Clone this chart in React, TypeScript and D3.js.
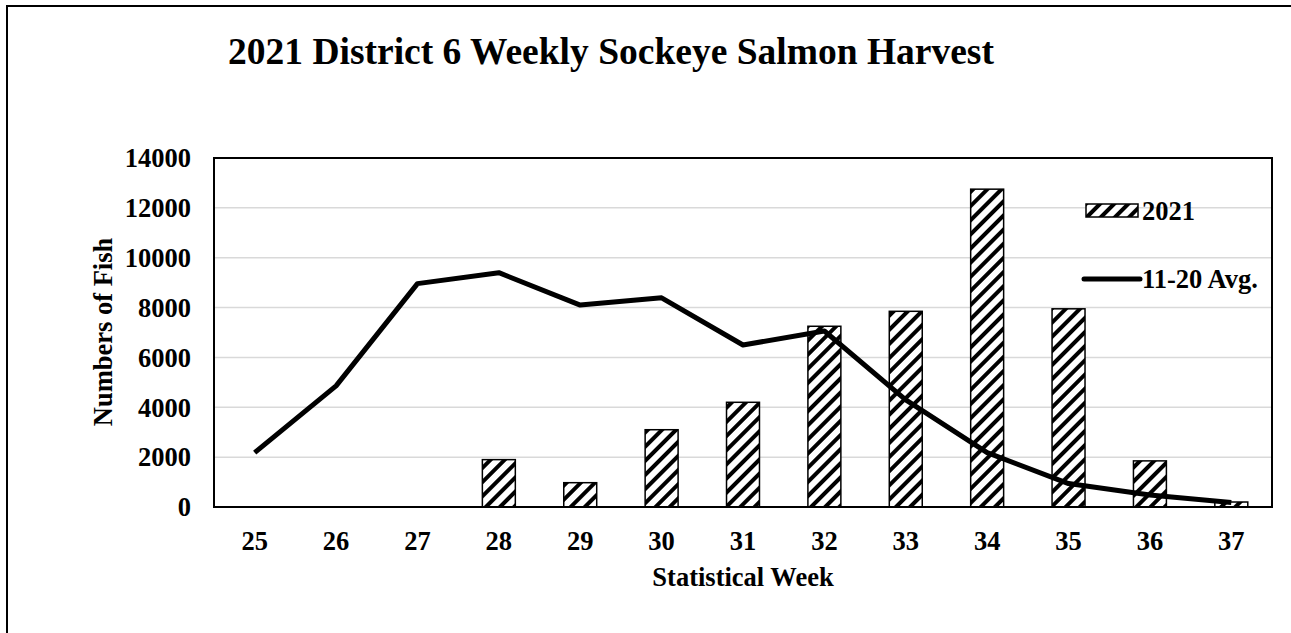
import React from "react";
import * as d3 from "d3";

const weeks = ["25", "26", "27", "28", "29", "30", "31", "32", "33", "34", "35", "36", "37"];
const harvest2021 = [0, 0, 0, 1900, 975, 3100, 4200, 7250, 7850, 12750, 7950, 1850, 200];
const avg1120 = [2180, 4860, 8960, 9400, 8100, 8390, 6500, 7060, 4300, 2180, 940, 480, 180];
const yTicks = [0, 2000, 4000, 6000, 8000, 10000, 12000, 14000];

const W = 1291;
const H = 633;
const plot = { left: 214, top: 158, right: 1272, bottom: 507 };
const font = "'Liberation Serif', 'Times New Roman', serif";
const fs = 26.5;

export default function App() {
  const x = d3.scaleBand<string>().domain(weeks).range([plot.left, plot.right]).padding(0);
  const y = d3.scaleLinear().domain([0, 14000]).range([plot.bottom, plot.top]);
  const barW = x.bandwidth() * 0.405;
  const line = d3
    .line<number>()
    .x((_, i) => (x(weeks[i]) as number) + x.bandwidth() / 2)
    .y((d) => y(d));

  return (
    <svg
      width={W}
      height={H}
      style={{ position: "absolute", left: 0, top: 0, background: "#fff" }}
      fontFamily={font}
    >
      <defs>
        <pattern id="updiag" patternUnits="userSpaceOnUse" width={10} height={10} patternTransform="rotate(45)">
          <rect width={10} height={10} fill="#fff" />
          <rect x={0} y={0} width={4} height={10} fill="#000" />
        </pattern>
      </defs>
      <rect x={0} y={0} width={W} height={H} fill="#fff" />
      {/* outer chart border (only left and top visible) */}
      <line x1={7} x2={7} y1={5} y2={H} stroke="#000" strokeWidth={2} />
      <line x1={6} x2={W} y1={6} y2={6} stroke="#000" strokeWidth={2} />

      <text x={611} y={64} textAnchor="middle" fontSize={37.5} fontWeight="bold">
        2021 District 6 Weekly Sockeye Salmon Harvest
      </text>

      {/* gridlines */}
      {yTicks.map((t) => (
        <line key={t} x1={plot.left} x2={plot.right} y1={y(t)} y2={y(t)} stroke="#d9d9d9" strokeWidth={1.5} />
      ))}

      {/* bars */}
      {harvest2021.map((v, i) =>
        v > 0 ? (
          <rect
            key={weeks[i]}
            x={(x(weeks[i]) as number) + (x.bandwidth() - barW) / 2}
            y={y(v)}
            width={barW}
            height={plot.bottom - y(v)}
            fill="url(#updiag)"
            stroke="#000"
            strokeWidth={1.5}
          />
        ) : null
      )}

      {/* average line */}
      <path d={line(avg1120) || ""} fill="none" stroke="#000" strokeWidth={5} strokeLinejoin="round" />

      {/* plot frame */}
      <rect
        x={plot.left}
        y={plot.top}
        width={plot.right - plot.left}
        height={plot.bottom - plot.top}
        fill="none"
        stroke="#000"
        strokeWidth={2}
      />

      {/* y tick labels */}
      {yTicks.map((t) => (
        <text key={t} x={191} y={y(t)} dy="0.35em" textAnchor="end" fontSize={fs} fontWeight="bold">
          {t}
        </text>
      ))}

      {/* x tick labels */}
      {weeks.map((w) => (
        <text
          key={w}
          x={(x(w) as number) + x.bandwidth() / 2}
          y={550}
          textAnchor="middle"
          fontSize={fs}
          fontWeight="bold"
        >
          {w}
        </text>
      ))}

      <text x={743} y={586} textAnchor="middle" fontSize={fs} fontWeight="bold">
        Statistical Week
      </text>
      <text transform={`translate(112,332) rotate(-90)`} textAnchor="middle" fontSize={fs} fontWeight="bold">
        Numbers of Fish
      </text>

      {/* legend */}
      <rect x={1086} y={204} width={52} height={13} fill="url(#updiag)" stroke="#000" strokeWidth={1.5} />
      <text x={1142} y={220} fontSize={fs} fontWeight="bold">
        2021
      </text>
      <line x1={1084} x2={1140} y1={279} y2={279} stroke="#000" strokeWidth={5} strokeLinecap="round" />
      <text x={1142} y={288} fontSize={fs} fontWeight="bold">
        11-20 Avg.
      </text>
    </svg>
  );
}
